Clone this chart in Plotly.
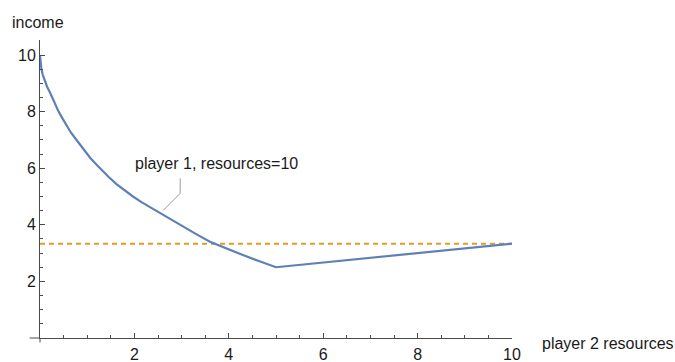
import plotly.graph_objects as go

# ---- data ----
resources_p2 = [0, 0.01, 0.03, 0.06, 0.1, 0.15, 0.22, 0.3, 0.38, 0.47, 0.56, 0.65,
                0.75, 0.85, 0.95, 1.07, 1.2, 1.32, 1.45, 1.62, 1.8, 1.97, 2.15,
                2.35, 2.55, 2.77, 3.0, 3.3, 3.6, 3.95, 4.3, 4.65, 5.0, 10.0]
income_p1 = [10, 9.75, 9.5, 9.3, 9.1, 8.88, 8.65, 8.35, 8.05, 7.78, 7.5, 7.27,
             7.05, 6.82, 6.6, 6.35, 6.12, 5.9, 5.7, 5.44, 5.2, 5.0, 4.8,
             4.6, 4.4, 4.19, 3.97, 3.68, 3.4, 3.16, 2.93, 2.71, 2.5, 3.333]
ref_x = [0, 10]
ref_income = [10 / 3, 10 / 3]
x_ticks = [2, 4, 6, 8, 10]
y_ticks = [2, 4, 6, 8, 10]
label_text = "player 1, resources=10"
callout_x = [2.61, 2.97, 2.97]
callout_y = [4.51, 5.11, 5.64]
label_pos = (3.73, 6.18)

BLUE = "#5E81B5"
ORANGE = "#E19C24"
AXIS = "#4a4a4a"
TEXT = "#1a1a1a"
FONT = "Liberation Sans, Arial, sans-serif"

fig = go.Figure()
fig.add_trace(go.Scatter(x=ref_x, y=ref_income, mode="lines",
                         line=dict(color=ORANGE, width=2, dash="5px,4px"),
                         hoverinfo="skip", showlegend=False, cliponaxis=False))
fig.add_trace(go.Scatter(x=resources_p2, y=income_p1, mode="lines",
                         line=dict(color=BLUE, width=2.2),
                         hoverinfo="skip", showlegend=False, cliponaxis=False))
fig.add_trace(go.Scatter(x=callout_x, y=callout_y, mode="lines",
                         line=dict(color="#9a9a9a", width=1),
                         hoverinfo="skip", showlegend=False))

fig.add_annotation(x=label_pos[0], y=label_pos[1], xref="x", yref="y",
                   text=label_text, showarrow=False,
                   font=dict(family=FONT, size=16, color=TEXT))
fig.add_annotation(x=-0.064, y=1.06, xref="paper", yref="paper", text="income",
                   showarrow=False, xanchor="left", yanchor="middle",
                   font=dict(family=FONT, size=16, color=TEXT))
fig.add_annotation(x=1.059, y=-0.017, xref="paper", yref="paper",
                   text="player 2 resources", showarrow=False,
                   xanchor="left", yanchor="middle",
                   font=dict(family=FONT, size=16, color=TEXT))

# small extension of x axis left of origin, and y axis below origin
fig.add_shape(type="line", xref="paper", yref="paper", x0=-0.022, x1=0, y0=0, y1=0,
              line=dict(color=AXIS, width=1))
fig.add_shape(type="line", xref="paper", yref="paper", x0=0, x1=0, y0=-0.015, y1=0,
              line=dict(color=AXIS, width=1))

axis_common = dict(showgrid=False, zeroline=False, showline=True, linecolor=AXIS,
                   linewidth=1, ticks="inside", ticklen=5, tickcolor=AXIS, tickwidth=1,
                   automargin=False,
                   tickfont=dict(family=FONT, size=16, color=TEXT),
                   minor=dict(ticks="inside", ticklen=3, dtick=0.5, tickcolor=AXIS,
                              tickwidth=1, showgrid=False))

fig.update_xaxes(range=[0, 10], tickmode="array", tickvals=x_ticks,
                 ticktext=[str(v) for v in x_ticks], ticklabelstandoff=2, **axis_common)
fig.update_yaxes(range=[0, 10.53], tickmode="array", tickvals=y_ticks,
                 ticktext=[str(v) for v in y_ticks], **axis_common)

fig.update_layout(width=675, height=362,
                  margin=dict(l=40, r=163, t=40, b=24, pad=0),
                  paper_bgcolor="white", plot_bgcolor="white",
                  hovermode=False, showlegend=False)

fig.write_html("out.html", config={"displayModeBar": False, "staticPlot": True},
               post_script="document.body.style.margin='0';document.body.style.padding='0';")
